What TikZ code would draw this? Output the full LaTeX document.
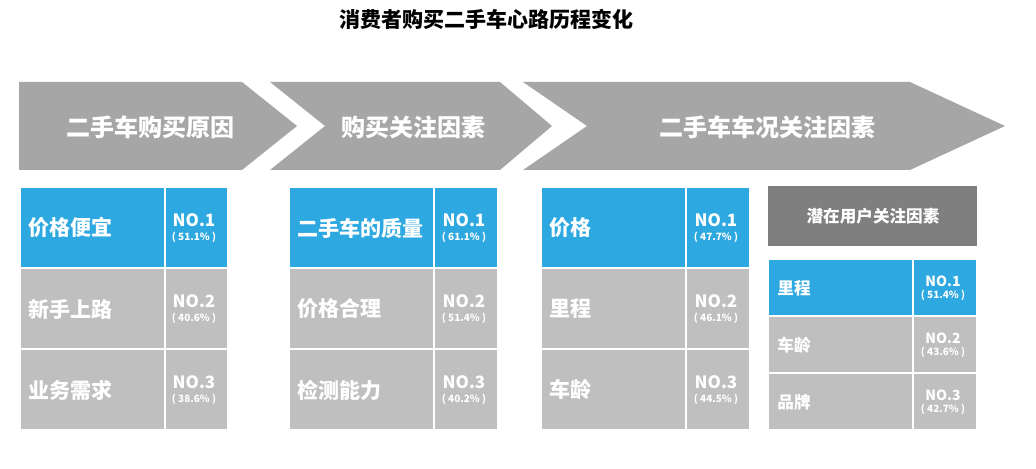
\documentclass[tikz,border=0pt]{standalone}
\usepackage{fontspec}
\usepackage{xcolor}
\newfontfamily\cjk{Noto Sans CJK SC}
\definecolor{chevgray}{HTML}{A6A6A6}
\definecolor{cellgray}{HTML}{BFBFBF}
\definecolor{cellblue}{HTML}{2DA8E0}
\definecolor{hdrgray}{HTML}{7F7F7F}

\begin{document}
\begin{tikzpicture}[x=0.5pt, y=-0.5pt,
  chev/.style={fill=chevgray},
  chevtext/.style={text=white, font=\cjk\bfseries\fontsize{12}{14}\selectfont},
  cell/.style={draw=white, line width=1pt},
  labtext/.style={text=white, anchor=west, inner sep=0pt, font=\cjk\bfseries\fontsize{10.5}{12}\selectfont},
  notext/.style={text=white, align=center, inner sep=0pt, font=\cjk\bfseries\fontsize{8.5}{8}\selectfont}]
  \useasboundingbox (0,0) rectangle (1036,469);

  % --- title ---
  \node[font=\cjk\bfseries\fontsize{10.5}{12}\selectfont] (title) at (486,19)
       {消费者购买二手车心路历程变化};

  % --- the three chevrons ---
  \fill[chev] (19,82) -- (242,82) -- (297,126) -- (242,170) -- (19,170) -- cycle;
  \fill[chev] (270,82) -- (500,82) -- (552,126) -- (500,170) -- (270,170) -- (325,126) -- cycle;
  \fill[chev] (523,82) -- (910,82) -- (1005,126) -- (910,170) -- (523,170) -- (587,126) -- cycle;
  \node[chevtext] (stage1) at (150,127) {二手车购买原因};
  \node[chevtext] (stage2) at (413,127) {购买关注因素};
  \node[chevtext] (stage3) at (767,127) {二手车车况关注因素};

  % --- table 1: reasons ---
  \foreach \lab/\pct/\col [count=\r] in {价格便宜/51.1/cellblue, 新手上路/40.6/cellgray, 业务需求/38.6/cellgray}{
    \draw[cell, fill=\col] (20,{187+(\r-1)*81}) rectangle (165,{268+(\r-1)*81});
    \draw[cell, fill=\col] (165,{187+(\r-1)*81}) rectangle (228,{268+(\r-1)*81});
    \node[labtext] (reason\r) at (28,{228+(\r-1)*81}) {\lab};
    \node[notext] (reasonno\r) at (194,{228+(\r-1)*81})
         {NO.\r\\[-1pt]{\fontsize{5}{6}\selectfont ( \pct\% )}};
  }

  % --- table 2: purchase factors ---
  \foreach \lab/\pct/\col [count=\r] in {二手车的质量/61.1/cellblue, 价格合理/51.4/cellgray, 检测能力/40.2/cellgray}{
    \draw[cell, fill=\col] (289,{187+(\r-1)*81}) rectangle (434,{268+(\r-1)*81});
    \draw[cell, fill=\col] (434,{187+(\r-1)*81}) rectangle (498,{268+(\r-1)*81});
    \node[labtext] (factor\r) at (297,{228+(\r-1)*81}) {\lab};
    \node[notext] (factorno\r) at (464,{228+(\r-1)*81})
         {NO.\r\\[-1pt]{\fontsize{5}{6}\selectfont ( \pct\% )}};
  }

  % --- table 3: condition factors ---
  \foreach \lab/\pct/\col [count=\r] in {价格/47.7/cellblue, 里程/46.1/cellgray, 车龄/44.5/cellgray}{
    \draw[cell, fill=\col] (541,{187+(\r-1)*81}) rectangle (686,{268+(\r-1)*81});
    \draw[cell, fill=\col] (686,{187+(\r-1)*81}) rectangle (750,{268+(\r-1)*81});
    \node[labtext] (cond\r) at (549,{228+(\r-1)*81}) {\lab};
    \node[notext] (condno\r) at (716,{228+(\r-1)*81})
         {NO.\r\\[-1pt]{\fontsize{5}{6}\selectfont ( \pct\% )}};
  }

  % --- table 4: potential users ---
  \fill[hdrgray] (768,186) rectangle (977,246);
  \node[text=white, font=\cjk\bfseries\fontsize{8.3}{10}\selectfont] (potential) at (873,216)
       {潜在用户关注因素};
  \foreach \lab/\pct/\col [count=\r] in {里程/51.4/cellblue, 车龄/43.6/cellgray, 品牌/42.7/cellgray}{
    \draw[cell, fill=\col] (768,{259+(\r-1)*57}) rectangle (913,{316+(\r-1)*57});
    \draw[cell, fill=\col] (913,{259+(\r-1)*57}) rectangle (977,{316+(\r-1)*57});
    \node[labtext, font=\cjk\bfseries\fontsize{8.3}{10}\selectfont] (pot\r) at (777,{288+(\r-1)*57}) {\lab};
    \node[notext, font=\cjk\bfseries\fontsize{7}{7}\selectfont] (potno\r) at (943,{288+(\r-1)*57})
         {NO.\r\\[-1pt]{\fontsize{5}{6}\selectfont ( \pct\% )}};
  }
\end{tikzpicture}
\end{document}
